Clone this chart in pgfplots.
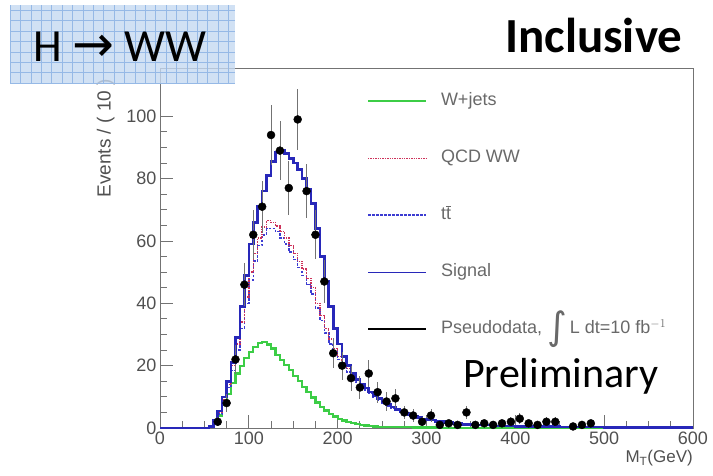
\documentclass[border=0pt]{standalone}
\usepackage{fontspec}
\setmainfont{Liberation Sans}
\newfontfamily\carlito{Carlito}
\newfontfamily\dejavu{DejaVu Sans}
\usepackage{pgfplots}
\usepackage{pgfplotstable}
\pgfplotsset{compat=1.18}

\definecolor{wjets}{RGB}{60,205,70}
\definecolor{qcdww}{RGB}{205,50,90}
\definecolor{ttbar}{RGB}{60,60,210}
\definecolor{signal}{RGB}{40,40,185}
\definecolor{boxfill}{RGB}{198,217,241}
\definecolor{boxgrid}{RGB}{150,185,230}
\definecolor{tickgray}{RGB}{80,80,80}
\definecolor{leggray}{RGB}{105,105,105}

% MC stack, 5 GeV steps (left bin edge): W+jets, QCD WW, ttbar, signal (total)
\pgfplotstableread{
x   w     q     t     s
0   0     0     0     0
50  0     0     0     0
55  0.5   0.5   0.5   0.5
60  1.5   2     2     2.5
65  4     5     4.5   5.5
70  7.5   9     8     10
75  11    14    13    15
80  14.5  20    18.5  21
85  17.5  27    25    29
90  20    34    32    39
95  22.5  42    40    49
100 24.5  50    47.5  59
105 26    56    53.5  66
110 27.3  61    58.5  71
115 27.5  64.5  62    76
120 26.8  66.5  64    81
125 25.5  66    64    85.5
130 23.5  64.8  63    88.5
135 21.8  63    61    89
140 20.2  61    59    88
145 18.5  58.5  56.5  86.5
150 16.8  56    54    85
155 15    53.5  51.5  83
160 13.2  51    49    80
165 11.5  48    46    76.5
170 9.8   45    43    72
175 8.2   40    38.5  64
180 6.8   36    34.5  55
185 5.6   32    30.5  47
190 4.6   28.5  27    39
195 3.7   25.5  24.5  32
200 3.0   23    22    27
205 2.4   21    20    23
210 1.9   19    18    20
215 1.5   17    16.3  17.5
220 1.2   15.3  14.7  15.5
225 1.0   14    13.5  14
230 0.8   12.6  12.2  12.8
235 0.65  11.4  11    11.6
240 0.5   10.3  9.9   10.5
245 0.45  9.2   8.9   9.4
250 0.4   8.2   7.9   8.4
255 0.35  7.4   7.1   7.6
260 0.3   6.6   6.3   6.8
265 0.28  5.9   5.6   6
270 0.25  5.2   5     5.3
275 0.22  4.6   4.4   4.7
280 0.2   4.1   3.9   4.2
285 0.18  3.6   3.4   3.7
290 0.16  3.2   3.0   3.3
295 0.15  2.8   2.7   2.9
300 0.14  2.5   2.4   2.6
310 0.12  2.0   1.9   2.1
320 0.1   1.6   1.5   1.7
330 0.1   1.3   1.2   1.4
340 0.08  1.1   1.0   1.1
350 0.07  0.9   0.85  0.9
375 0.06  0.7   0.65  0.7
400 0.05  0.5   0.45  0.5
450 0.03  0.3   0.28  0.3
500 0.02  0.2   0.18  0.2
550 0.01  0.1   0.1   0.1
600 0.01  0.1   0.1   0.1
}\mcstack

% pseudodata, 10 GeV bins
\pgfplotstableread{
x   y     e
65  2     1.4
75  8     2.8
85  22    4.7
95  46    6.8
105 62    7.9
115 71    8.4
125 94    9.7
135 89    9.4
145 77    8.8
155 99    9.9
165 76    8.7
175 62    7.9
185 47    6.9
195 24    4.9
205 20    4.5
215 16    4.0
225 13    3.6
235 17.5  4.2
245 11.5  3.4
255 8.5   2.9
265 9.5   3.1
275 5     2.2
285 4     2.0
295 2     1.4
305 4     2.0
315 1     1.0
325 1.5   1.2
335 1     1.0
345 5     2.2
355 1     1.0
365 1.5   1.2
375 1     1.0
385 1.5   1.2
395 2     1.4
405 3     1.7
415 1.5   1.2
425 1     1.0
435 2     1.4
445 2     1.4
465 0.5   0.7
475 1     1.0
485 1.5   1.2
}\pseudodata

\begin{document}
\begin{tikzpicture}[x=1pt,y=1pt]
\useasboundingbox (0,0) rectangle (713,475);
\begin{axis}[
  at={(160pt,47pt)}, anchor=south west,
  scale only axis, width=533pt, height=360pt,
  xmin=0, xmax=600, ymin=0, ymax=115.5,
  xtick={0,100,...,600}, ytick={0,20,...,100},
  minor x tick num=3, minor y tick num=3,
  tick align=inside, tick pos=left,
  major tick length=13pt, minor tick length=7pt,
  axis line style={black!55, line width=0.9pt},
  every tick/.style={black!55, line width=0.9pt},
  /pgf/number format/assume math mode=true,
  ticklabel style={font=\fontsize{18}{20}\selectfont, text=tickgray},
  xlabel={M\textsubscript{T}(GeV)},
  xlabel style={at={(axis description cs:1,0)}, anchor=north east,
    yshift=-22pt, inner sep=0pt, font=\fontsize{17}{19}\selectfont, text=tickgray},
  ylabel={Events / ( 10 )},
  ylabel style={at={(axis description cs:-0.085,0.64)}, anchor=south west,
    inner sep=0pt, font=\fontsize{19}{21}\selectfont, text=tickgray},
  legend image code/.code={\draw[#1] (0pt,0pt) -- (58pt,0pt);},
  legend cell align=left,
  legend style={at={(axis description cs:0.388,0.9375)}, anchor=north west,
    draw=none, fill=none, inner sep=0pt, row sep=36pt,
    font=\fontsize{18}{20}\selectfont, text=leggray,
    nodes={text height=13pt, text depth=4pt},
    /tikz/every odd column/.style={column sep=12pt}},
]
\addplot[const plot mark left, wjets, line width=2.2pt, forget plot]
  table[x=x, y=w] {\mcstack};
\addplot[const plot mark left, ttbar, line width=1.5pt, dash pattern=on 2.5pt off 1.5pt, forget plot]
  table[x=x, y=t] {\mcstack};
\addplot[const plot mark left, qcdww, line width=1.4pt, densely dotted, forget plot]
  table[x=x, y=q] {\mcstack};
\addplot[const plot mark left, signal, line width=2.6pt, forget plot]
  table[x=x, y=s] {\mcstack};
\addplot[only marks, mark=*, mark size=4pt, black, forget plot,
  error bars/.cd, y dir=both, y explicit,
  error bar style={black!55, line width=0.8pt}, error mark=none]
  table[x=x, y=y, y error=e] {\pseudodata};

\addlegendimage{wjets, line width=2pt}
\addlegendentry{W+jets}
\addlegendimage{qcdww, line width=1.4pt, densely dotted}
\addlegendentry{QCD WW}
\addlegendimage{ttbar, line width=1.6pt, dash pattern=on 2.5pt off 1.5pt}
\addlegendentry{t$\overline{\hbox{t}}$}
\addlegendimage{signal, line width=1.4pt}
\addlegendentry{Signal}
\addlegendimage{black, line width=1.8pt}
\addlegendentry{Pseudodata, \raisebox{-0.3em}{\dejavu\fontsize{38}{38}\selectfont ∫}\,L dt=10 fb$^{-1}$}
\end{axis}

% title box
\fill[boxfill, fill opacity=0.8] (10,392) rectangle (235,470);
\draw[boxgrid, line width=0.5pt, shift={(10,392)}, step=10.4pt] (0,0) grid (225,78);
\node[anchor=base west, inner sep=0pt] at (33,413)
  {\carlito\fontsize{46}{50}\selectfont H {\dejavu\fontsize{50}{50}\selectfont →} WW};
\node[anchor=base west, inner sep=0pt] at (505,422)
  {\carlito\bfseries\fontsize{49}{52}\selectfont Inclusive};
\node[anchor=base west, inner sep=0pt] at (463,88)
  {\carlito\fontsize{42}{46}\selectfont Preliminary};
\end{tikzpicture}
\end{document}
